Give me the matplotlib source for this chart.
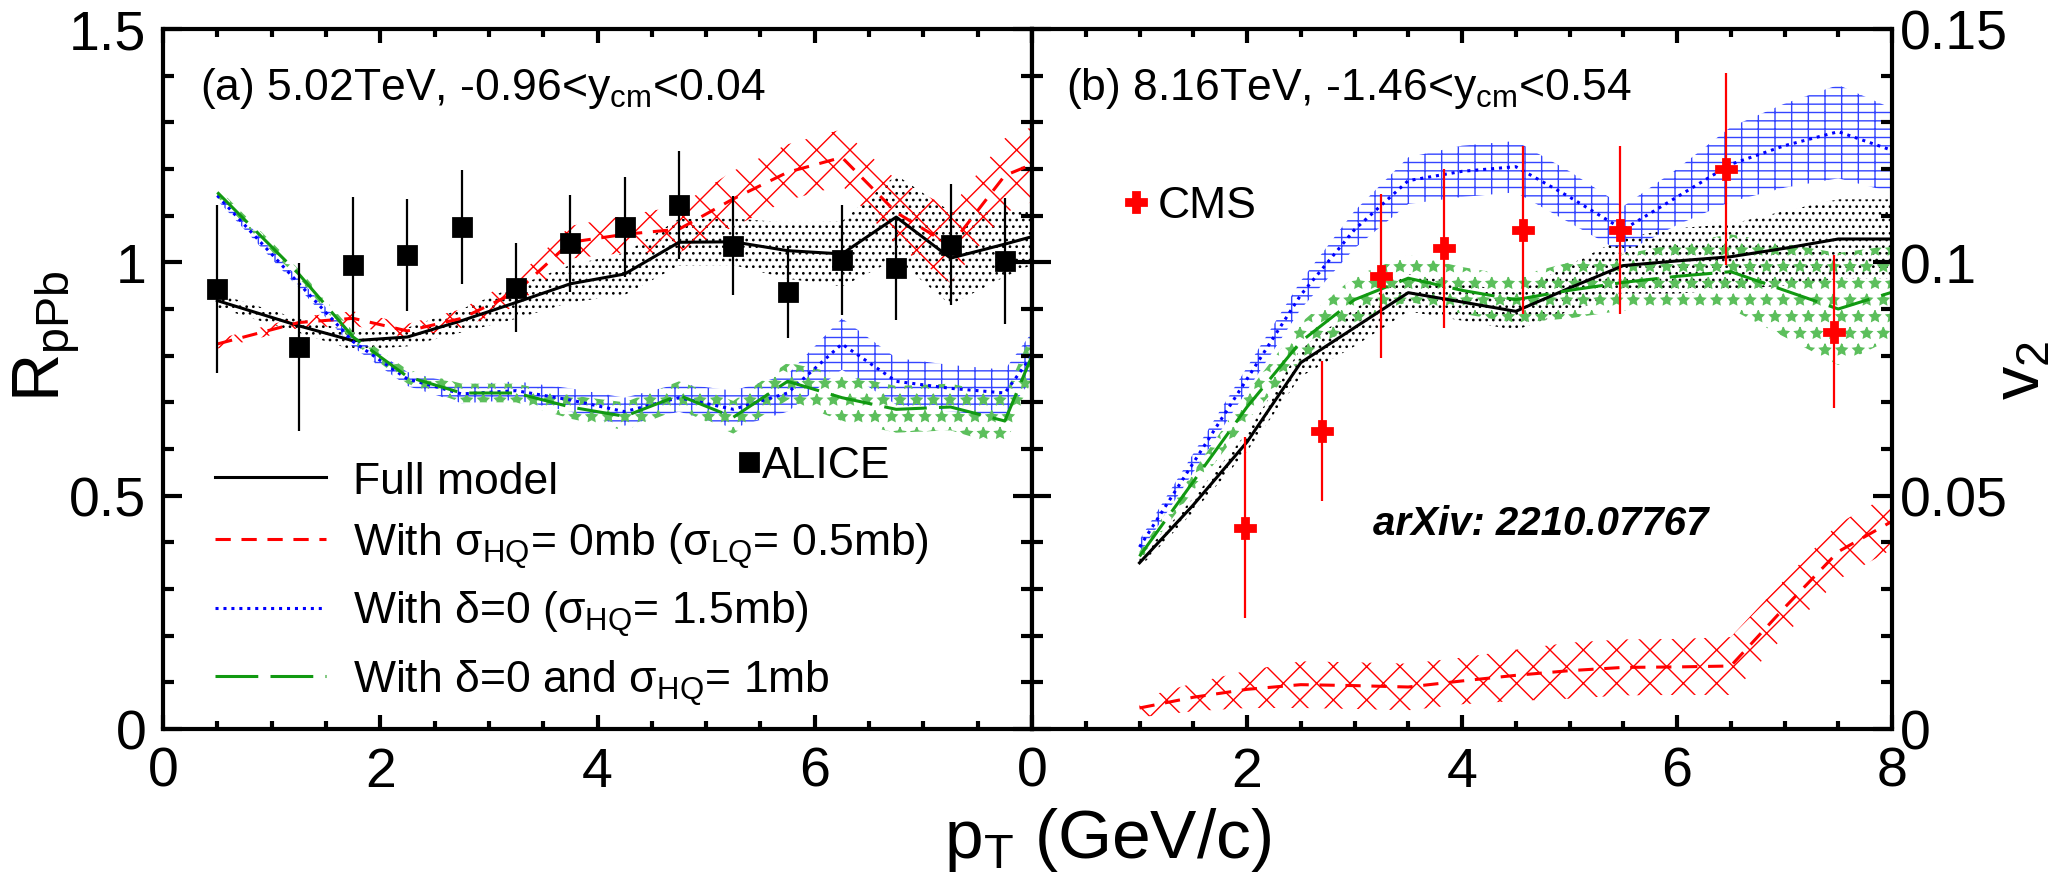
import numpy as np
import matplotlib
matplotlib.use('Agg')
import matplotlib.pyplot as plt
from matplotlib.ticker import MultipleLocator, FuncFormatter
from matplotlib.lines import Line2D

plt.rcParams['font.family'] = ['Liberation Sans', 'DejaVu Sans']
plt.rcParams['mathtext.fontset'] = 'custom'
plt.rcParams['mathtext.rm'] = 'Liberation Sans'
plt.rcParams['mathtext.it'] = 'Liberation Sans:italic'
plt.rcParams['mathtext.bf'] = 'Liberation Sans:bold'
plt.rcParams['hatch.linewidth'] = 0.5

###############################################
# panel (a): R_pPb, 5.02 TeV
###############################################
pt_alice = [0.5, 1.25, 1.75, 2.25, 2.75, 3.25, 3.75, 4.25, 4.75, 5.25, 5.75, 6.25, 6.75, 7.25, 7.75]
r_alice = [0.943, 0.819, 0.995, 1.016, 1.076, 0.946, 1.041, 1.076, 1.123, 1.036, 0.936, 1.005, 0.987, 1.038, 1.003]
r_alice_err = [0.18, 0.18, 0.144, 0.12, 0.122, 0.095, 0.104, 0.107, 0.115, 0.107, 0.099, 0.117, 0.11, 0.13, 0.135]

pt_a = [0.5, 1.25, 1.75, 2.25, 2.75, 3.25, 3.75, 4.25, 4.75, 5.25, 5.75, 6.25, 6.75, 7.25, 7.75, 8.0]
r_full = [0.918, 0.864, 0.832, 0.84, 0.875, 0.914, 0.954, 0.975, 1.043, 1.044, 1.025, 1.018, 1.097, 1.009, 1.039, 1.055]
r_full_err = [0.015, 0.015, 0.02, 0.02, 0.025, 0.035, 0.04, 0.045, 0.05, 0.05, 0.06, 0.07, 0.09, 0.1, 0.07, 0.06]
r_hq0 = [0.825, 0.871, 0.88, 0.853, 0.88, 0.936, 1.043, 1.06, 1.071, 1.136, 1.193, 1.225, 1.107, 1.036, 1.186, 1.21]
r_hq0_err = [0.01, 0.012, 0.015, 0.015, 0.02, 0.03, 0.035, 0.04, 0.05, 0.06, 0.06, 0.06, 0.07, 0.08, 0.08, 0.08]
r_d0 = [1.143, 0.955, 0.83, 0.75, 0.718, 0.725, 0.705, 0.68, 0.71, 0.685, 0.72, 0.825, 0.745, 0.73, 0.72, 0.8]
r_d0_err = [0.01, 0.01, 0.012, 0.015, 0.02, 0.02, 0.025, 0.03, 0.03, 0.04, 0.04, 0.055, 0.05, 0.05, 0.05, 0.05]
r_d0hq1 = [1.15, 0.975, 0.84, 0.755, 0.72, 0.72, 0.69, 0.67, 0.715, 0.668, 0.745, 0.71, 0.685, 0.69, 0.66, 0.8]
r_d0hq1_err = [0.01, 0.01, 0.012, 0.015, 0.02, 0.02, 0.025, 0.03, 0.03, 0.035, 0.04, 0.05, 0.05, 0.05, 0.055, 0.05]

###############################################
# panel (b): v2, 8.16 TeV
###############################################
pt_cms = [1.98, 2.70, 3.25, 3.83, 4.57, 5.47, 6.46, 7.46]
v2_cms = [0.0431, 0.0639, 0.0971, 0.103, 0.107, 0.107, 0.120, 0.0851]
v2_cms_err = [0.0194, 0.0150, 0.0176, 0.017, 0.018, 0.018, 0.0205, 0.0164]

pt_b = [1.0, 1.5, 2.0, 2.5, 3.0, 3.5, 4.0, 4.5, 5.0, 5.5, 6.0, 6.5, 7.0, 7.5, 8.0]
v2_full = [0.0356, 0.048, 0.0615, 0.0785, 0.086, 0.0935, 0.0915, 0.0895, 0.0945, 0.0993, 0.1003, 0.1012, 0.103, 0.105, 0.105]
v2_full_err = [0.001, 0.0015, 0.002, 0.003, 0.004, 0.004, 0.004, 0.004, 0.005, 0.006, 0.007, 0.007, 0.008, 0.0085, 0.0085]
v2_hq0 = [0.0045, 0.0068, 0.0085, 0.0095, 0.0093, 0.009, 0.0103, 0.0115, 0.0125, 0.0132, 0.0133, 0.0135, 0.026, 0.038, 0.0445]
v2_hq0_err = [0.002, 0.003, 0.004, 0.005, 0.005, 0.005, 0.005, 0.0055, 0.006, 0.006, 0.006, 0.0062, 0.006, 0.006, 0.006]
v2_d0 = [0.039, 0.057, 0.075, 0.093, 0.107, 0.1175, 0.1195, 0.1205, 0.114, 0.107, 0.114, 0.121, 0.125, 0.128, 0.124]
v2_d0_err = [0.0015, 0.002, 0.0025, 0.003, 0.004, 0.005, 0.0055, 0.0055, 0.0055, 0.005, 0.006, 0.008, 0.009, 0.01, 0.009]
v2_d0hq1 = [0.037, 0.053, 0.069, 0.083, 0.092, 0.0966, 0.094, 0.092, 0.094, 0.0957, 0.097, 0.098, 0.094, 0.09, 0.0936]
v2_d0hq1_err = [0.001, 0.002, 0.003, 0.004, 0.005, 0.005, 0.005, 0.005, 0.006, 0.006, 0.007, 0.008, 0.01, 0.012, 0.01]

labels = ['Full model',
          'With σ$_{\\rm HQ}$= 0mb (σ$_{\\rm LQ}$= 0.5mb)',
          'With δ=0 (σ$_{\\rm HQ}$= 1.5mb)',
          'With δ=0 and σ$_{\\rm HQ}$= 1mb']

RED = '#ff0000'
BLUE = '#0000ff'
GREEN = '#119911'
estilos = {
    'full': dict(color='black', hcolor='black', ls='-', hatch='.....'),
    'hq0': dict(color=RED, hcolor=RED, ls=(0, (5, 3.5)), hatch='xx'),
    'd0': dict(color=BLUE, hcolor='#3344ff', ls=(0, (1, 1.6)), hatch='++--'),
    'd0hq1': dict(color=GREEN, hcolor='#5cbf5c', ls=(0, (14, 4)), hatch='**'),
}


def banda(ax, x, y, err, key, lw=1.1):
    e = estilos[key]
    y = np.array(y)
    err = np.array(err)
    ax.fill_between(x, y - err, y + err, facecolor='none', edgecolor=e['hcolor'],
                    hatch=e['hatch'], linewidth=0, zorder=1)
    ax.plot(x, y, color=e['color'], ls=e['ls'], lw=lw, zorder=3)


def ejes(ax, ymax, ymaj, ymin):
    ax.set_xlim(0, 8)
    ax.set_ylim(0, ymax)
    ax.xaxis.set_major_locator(MultipleLocator(2))
    ax.xaxis.set_minor_locator(MultipleLocator(0.5))
    ax.yaxis.set_major_locator(MultipleLocator(ymaj))
    ax.yaxis.set_minor_locator(MultipleLocator(ymin))
    ax.yaxis.set_major_formatter(FuncFormatter(lambda v, p: '%g' % round(v, 4)))
    ax.tick_params(axis='both', which='both', direction='in', top=True,
                   left=True, right=True, width=1.5, labelsize=20)
    ax.tick_params(axis='x', which='major', length=5, pad=6)
    ax.tick_params(axis='x', which='minor', length=3)
    ax.tick_params(axis='y', which='major', length=7, pad=6)
    ax.tick_params(axis='y', which='minor', length=4)
    for s in ax.spines.values():
        s.set_linewidth(1.5)
        s.set_zorder(10)


fig = plt.figure(figsize=(10.34, 4.435), dpi=200)
W, H = 2068.0, 887.0
ax1 = fig.add_axes([163 / W, 1 - 730 / H, (1032 - 163) / W, 700 / H])
ax2 = fig.add_axes([1032 / W, 1 - 730 / H, (1892 - 1032) / W, 700 / H])

# ---- panel a
ejes(ax1, 1.5, 0.5, 0.1)
ax1.xaxis.set_major_formatter(FuncFormatter(lambda v, p: '' if v > 7 else '%d' % v))
banda(ax1, pt_a, r_full, r_full_err, 'full')
banda(ax1, pt_a, r_hq0, r_hq0_err, 'hq0')
banda(ax1, pt_a, r_d0, r_d0_err, 'd0')
banda(ax1, pt_a, r_d0hq1, r_d0hq1_err, 'd0hq1')
ax1.errorbar(pt_alice, r_alice, yerr=r_alice_err, fmt='s', color='black', ms=6.5,
             elinewidth=0.8, capsize=0, zorder=5)
ax1.text(0.0426, 0.9, '(a) 5.02TeV, -0.96<y$_{\\rm cm}$<0.04', transform=ax1.transAxes,
         fontsize=16, va='baseline')

handles = [Line2D([], [], color=estilos[k]['color'], ls=estilos[k]['ls'], lw=1.1)
           for k in ['full', 'hq0', 'd0', 'd0hq1']]
leg1 = ax1.legend(handles, labels, loc='upper left', bbox_to_anchor=(0.06, 0.383),
                  frameon=False, fontsize=16, borderpad=0, borderaxespad=0,
                  handlelength=2.5, handletextpad=0.6, labelspacing=0.42)
ax1.add_artist(leg1)
alice_h = Line2D([], [], marker='s', color='black', ls='none', ms=6.5)
ax1.legend([alice_h], ['ALICE'], loc='upper left', bbox_to_anchor=(0.659, 0.405),
           frameon=False, fontsize=16, borderpad=0, borderaxespad=0,
           handlelength=0.6, handletextpad=0.0)

# ---- panel b
ejes(ax2, 0.15, 0.05, 0.01)
ax2.xaxis.set_major_formatter(FuncFormatter(lambda v, p: '%d' % v))
ax2.yaxis.tick_right()
ax2.tick_params(axis='y', which='both', left=True, right=True, pad=3)
banda(ax2, pt_b, v2_full, v2_full_err, 'full')
banda(ax2, pt_b, v2_hq0, v2_hq0_err, 'hq0')
banda(ax2, pt_b, v2_d0, v2_d0_err, 'd0')
banda(ax2, pt_b, v2_d0hq1, v2_d0hq1_err, 'd0hq1')
ax2.errorbar(pt_cms, v2_cms, yerr=v2_cms_err, fmt='P', color=RED, ms=7,
             elinewidth=0.8, capsize=0, zorder=5)
ax2.text(0.0395, 0.9, '(b) 8.16TeV, -1.46<y$_{\\rm cm}$<0.54', transform=ax2.transAxes,
         fontsize=16, va='baseline')
cms_h = Line2D([], [], marker='P', color=RED, ls='none', ms=7)
ax2.legend([cms_h], ['CMS'], loc='upper left', bbox_to_anchor=(0.105, 0.777),
           frameon=False, fontsize=16, borderpad=0, borderaxespad=0,
           handlelength=0.6, handletextpad=0.2)
ax2.text(0.591, 0.279, 'arXiv: 2210.07767', transform=ax2.transAxes, fontsize=14.5,
         fontweight='bold', style='italic', ha='center', va='baseline')

# titulos
fig.text(47 / W, 1 - 336 / H, 'R$_{\\rm pPb}$', rotation=90, fontsize=24,
         ha='center', va='center')
fig.text(2022 / W, 1 - 370 / H, 'v$_{\\rm 2}$', rotation=90, fontsize=24,
         ha='center', va='center')
fig.text(1108 / W, 1 - 858 / H, 'p$_{\\rm T}$ (GeV/c)', fontsize=25,
         ha='center', va='baseline')

fig.savefig('out.png', dpi=200)
